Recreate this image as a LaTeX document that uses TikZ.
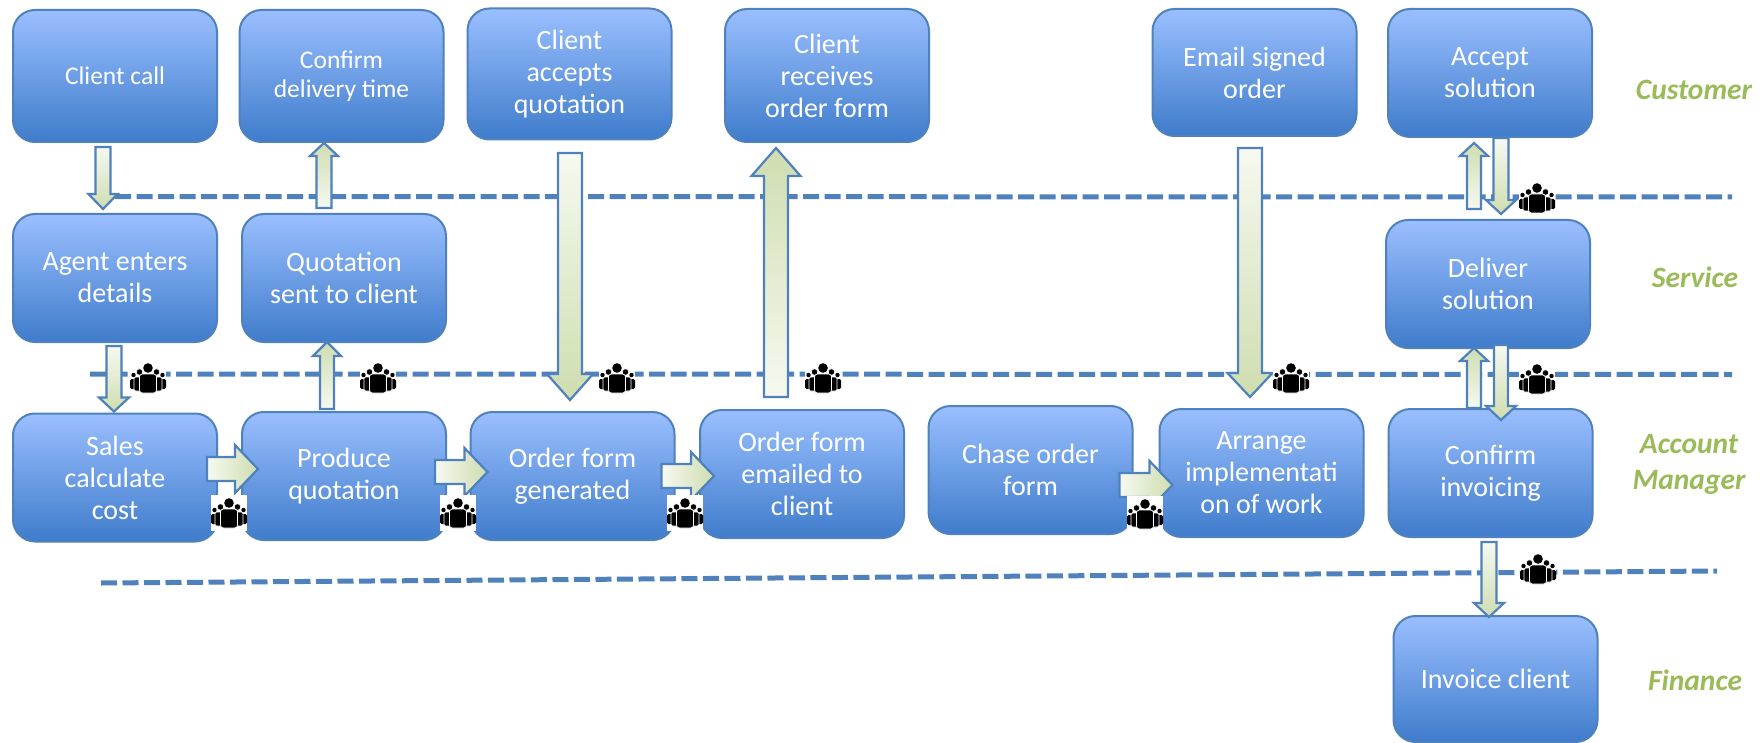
\documentclass[tikz,border=0pt]{standalone}
\usepackage{fontspec}
\setmainfont{Carlito}
\usetikzlibrary{calc}
\definecolor{boxline}{HTML}{4F81BD}
\definecolor{boxtop}{HTML}{9ABFFF}
\definecolor{boxbottom}{HTML}{3F7CCB}
\definecolor{tailgreen}{HTML}{F6F9F0}
\definecolor{headgreen}{HTML}{CFDDB0}
\definecolor{lanegreen}{HTML}{9BBB59}

\newcommand{\flowarrow}[6][]{
  \coordinate (fa tail) at #2;
  \coordinate (fa tip) at #3;
  \coordinate (fa neck) at ($(fa tip)!#6pt!(fa tail)$);
  \draw[flow arrow,#1] ($(fa tail)!#4pt!90:(fa tip)$) -- ($(fa neck)!#4pt!90:(fa tip)$)
    -- ($(fa neck)!#5pt!90:(fa tip)$) -- (fa tip) -- ($(fa neck)!#5pt!-90:(fa tip)$)
    -- ($(fa neck)!#4pt!-90:(fa tip)$) -- ($(fa tail)!#4pt!-90:(fa tip)$) -- cycle;
}

\begin{document}
\begin{tikzpicture}[x=1pt,y=-1pt,
      task node/.style={rectangle,draw=boxline,line width=2pt,rounded corners=22pt,
          top color=boxtop,bottom color=boxbottom,text=white,align=center,
          font=\fontsize{28}{32}\selectfont,outer sep=0pt,inner sep=0pt,
          minimum width=204pt,minimum height=128pt},
      small task/.style={font=\fontsize{25.5}{29}\selectfont},
      lane label/.style={text=lanegreen,align=center,
          font=\fontsize{29.5}{36}\selectfont\bfseries\itshape},
      lane line/.style={draw=boxline,line width=5pt,dash pattern=on 16pt off 5.5pt},
      flow arrow/.style={draw=boxline,line width=2.2pt,line join=miter},
      flow down/.style={top color=tailgreen,bottom color=headgreen},
      flow up/.style={bottom color=tailgreen,top color=headgreen},
      flow right/.style={left color=tailgreen,right color=headgreen},
      people/.pic={
        \fill[white] (-18,-18) rectangle (18,18);
        \foreach \sx in {-1,1} {
          \fill (\sx*14.5,-3) circle (2.2pt);
          \fill[rounded corners=1.5pt] (\sx*18,1) rectangle (\sx*12,11);
          \fill[draw=white,line width=0.5pt] (\sx*8.5,-6) circle (3.2pt);
          \path[fill,draw=white,line width=0.6pt,rounded corners=2pt] (\sx*14,-1) rectangle (\sx*5,13);
        }
        \fill (0,-10) circle (4.8pt);
        \path[fill,draw=white,line width=0.6pt,rounded corners=3pt] (-8.5,-4) -- (8.5,-4) -- (8.5,15) -- (-8.5,15) -- cycle;
      }]

    \path[fill=white,use as bounding box] (0,0) rectangle (1760,743);

    \coordinate (line a start) at (115,196.5);
    \coordinate (line a end) at (1732,197);
    \coordinate (line b start) at (90,374);
    \coordinate (line b end) at (1732,374.5);
    \coordinate (line c start) at (101,583);
    \coordinate (line c end) at (1717,571);
    \draw[lane line] (line a start) -- (line a end);
    \draw[lane line] (line b start) -- (line b end);
    \draw[lane line] (line c start) -- (line c end);

    \node[task node,small task,minimum height=132pt] (clientcall) at (115,76) {Client call};
    \node[task node,small task,minimum height=132pt] (confirmtime) at (341.5,76) {Confirm\\delivery time};
    \node[task node] (agent) at (115,278) {Agent enters\\details};
    \node[task node] (quotation) at (344,278) {Quotation\\sent to client};
    \node[task node,minimum height=131pt] (accepts) at (569.5,74) {Client\\accepts\\quotation};
    \node[task node,minimum height=133pt] (receives) at (827,75.5) {Client\\receives\\order form};
    \node[task node,minimum height=127pt] (email) at (1254.5,72.5) {Email signed\\order};
    \node[task node] (accept) at (1490,73) {Accept\\solution};
    \node[task node] (deliver) at (1488,284) {Deliver\\solution};
    \node[task node] (sales) at (115,477.5) {Sales\\calculate\\cost};
    \node[task node] (produce) at (344,476) {Produce\\quotation};
    \node[task node] (generated) at (572.5,476) {Order form\\generated};
    \node[task node] (emailed) at (802,474) {Order form\\emailed to\\client};
    \node[task node] (chase) at (1030.5,470) {Chase order\\form};
    \node[task node] (arrange) at (1261.5,473) {Arrange\\implementati\\on of work};
    \node[task node] (invoicing) at (1490.5,473) {Confirm\\invoicing};
    \node[task node,minimum height=126pt] (invoice) at (1495.5,679) {Invoice client};

    \node[lane label] (customer) at (1694,90) {Customer};
    \node[lane label] (service) at (1695,277) {Service};
    \node[lane label] (manager) at (1689,464) {Account\\Manager};
    \node[lane label] (finance) at (1695,680) {Finance};

    \flowarrow[flow down]{($(clientcall.south)+(-12,5)$)}{($(agent.north)+(-12,-5)$)}{7.5}{14.5}{15}
    \flowarrow[flow up]{($(quotation.north)+(-20,-6)$)}{($(confirmtime.south)+(-17.5,1)$)}{7.5}{14}{13}
    \flowarrow[flow down]{($(agent.south)+(-1,4)$)}{($(sales.north)+(-1,-2)$)}{7.5}{15}{14}
    \flowarrow[flow up]{($(produce.north)+(-17,-3)$)}{($(quotation.south)+(-17,0)$)}{7}{14}{14}
    \flowarrow[flow down]{($(accepts.south)+(0.5,13.5)$)}{($(generated.north)+(-2.5,-12)$)}{12}{23}{26}
    \flowarrow[flow up]{($(emailed.north)+(-26,-13)$)}{($(receives.south)+(-51,6)$)}{12}{24.5}{28}
    \flowarrow[flow down]{($(email.south)+(-4.5,12)$)}{($(arrange.north)+(-11.5,-12)$)}{12}{22.5}{24}
    \flowarrow[flow up]{($(deliver.north)+(-14,-11)$)}{($(accept.south)+(-16,6)$)}{7}{14}{13}
    \flowarrow[flow down]{($(accept.south)+(11,1)$)}{($(deliver.north)+(13,-6)$)}{7.5}{15}{14}
    \flowarrow[flow up]{($(invoicing.north)+(-16.5,-1)$)}{($(deliver.south)+(-14,0)$)}{7}{14}{13}
    \flowarrow[flow down]{($(deliver.south)+(13,-3)$)}{($(invoicing.north)+(10.5,11)$)}{7}{15}{14}
    \flowarrow[flow down]{($(invoicing.south)+(-1.5,5)$)}{($(invoice.north)+(-6.5,1)$)}{7.5}{15}{14}
    \flowarrow[flow right]{($(sales.east)+(-10,-8.5)$)}{($(produce.west)+(16,-7)$)}{12}{24}{23}
    \flowarrow[flow right]{($(produce.east)+(-11,-4)$)}{($(generated.west)+(17,-4)$)}{12}{24}{23}
    \flowarrow[flow right]{($(generated.east)+(-13,0)$)}{($(emailed.west)+(14,2)$)}{12}{24}{23}
    \flowarrow[flow right]{($(chase.east)+(-13,15)$)}{($(arrange.west)+(13,12)$)}{12}{24}{23}

    \foreach \px/\py in {148/378,378/378,617/378,823/378,1291/378,1537/379,1537/198,1538/569,
        229/513,458/513,685/513,1145/514} {
      \pic at (\px,\py) {people};
    }

  \end{tikzpicture}
\end{document}
